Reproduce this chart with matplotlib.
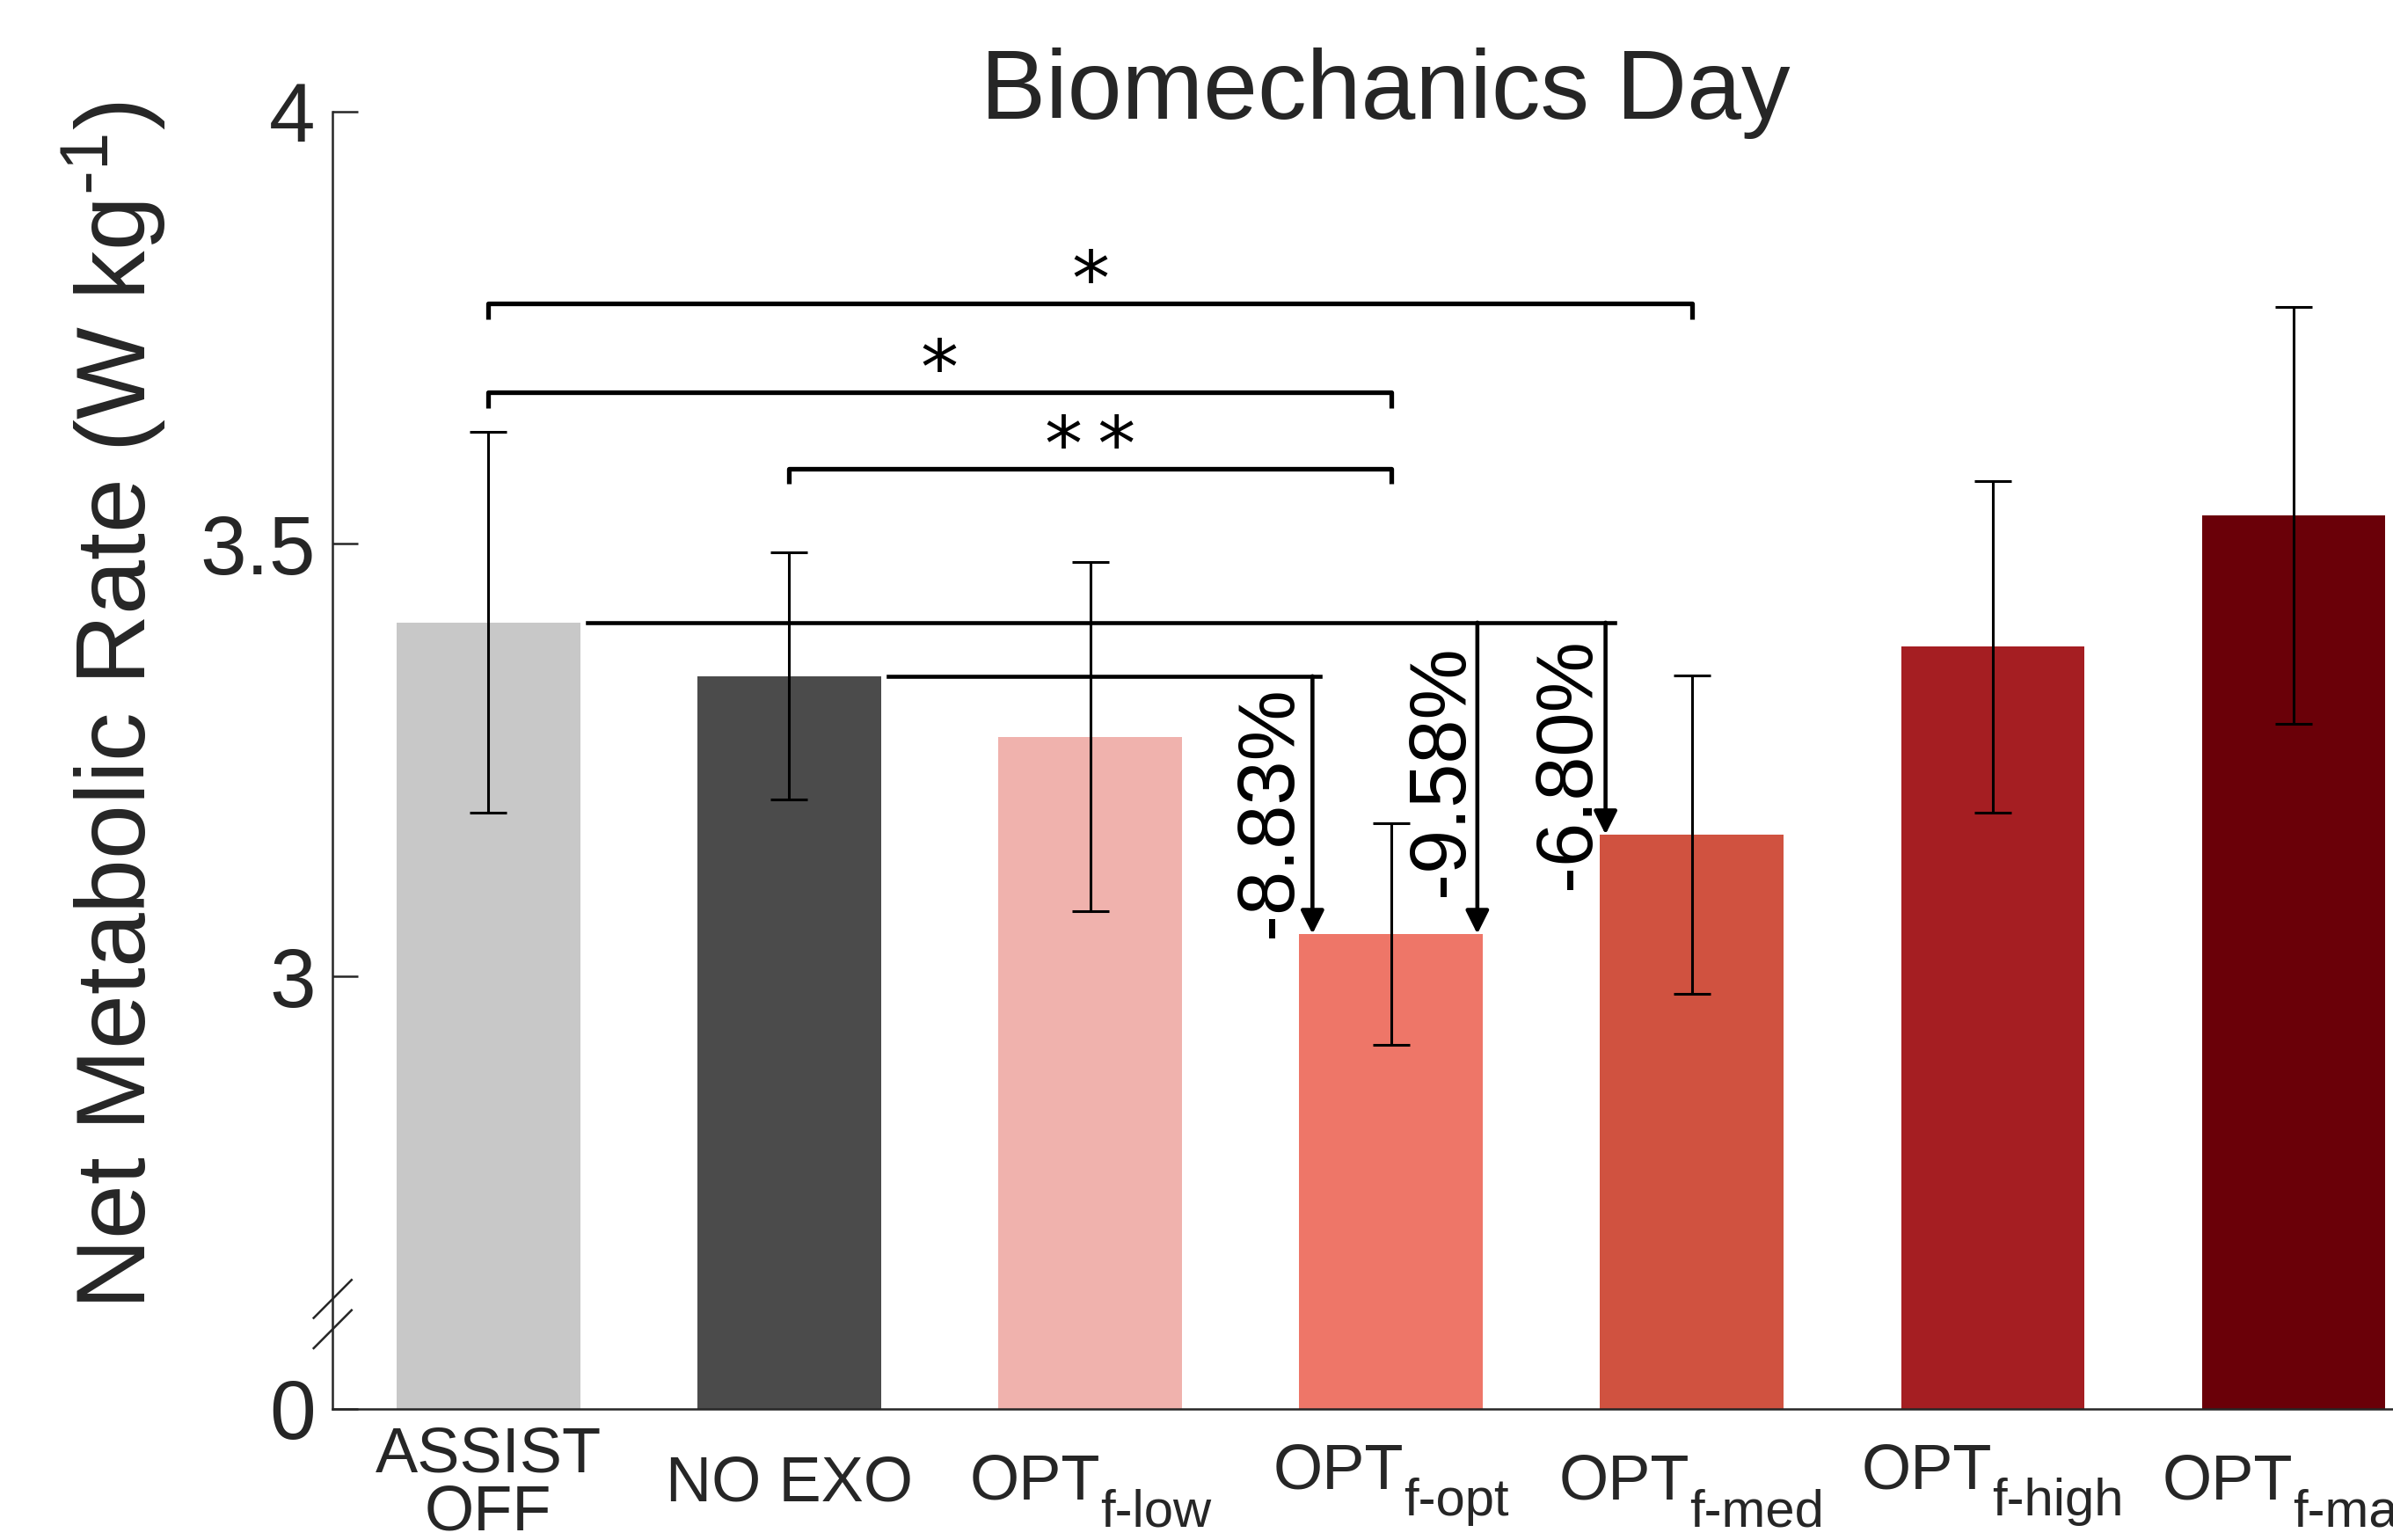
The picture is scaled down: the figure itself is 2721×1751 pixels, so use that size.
import numpy as np
import matplotlib.pyplot as plt

# bar values (W/kg), axis is broken below 2.5
conditions = ["ASSIST\nOFF", "NO EXO", "OPT", "OPT", "OPT", "OPT", "OPT"]
subscripts = ["", "", "f-low", "f-opt", "f-med", "f-high", "f-max"]
means = [3.409, 3.347, 3.277, 3.049, 3.164, 3.381, 3.533]
sds = [0.220, 0.143, 0.202, 0.128, 0.184, 0.192, 0.241]
colors = ["#c8c8c8", "#4b4b4b", "#f0b2ad", "#ee7668", "#d05240", "#a51e22", "#6a0008"]

ytick_vals = [2.5, 3.0, 3.5, 4.0]
ytick_labels = ["0", "3", "3.5", "4"]

# significance brackets: (left bar, right bar, height, label)
brackets = [(1, 5, 3.778, "*"), (1, 4, 3.675, "*"), (2, 4, 3.587, "*\u2009*")]
# percent change arrows: (ref bar, x of arrow, target bar, label, label x, label y)
changes = [(2, 3.739, 4, "-8.83%", 3.60, 3.190),
           (1, 4.287, 4, "-9.58%", 4.17, 3.238),
           (1, 4.713, 5, "-6.80%", 4.59, 3.246)]

plt.rcParams['font.family'] = ['Liberation Sans', 'DejaVu Sans']
txt = "#262626"

fig = plt.figure(figsize=(27.21, 17.51), dpi=100)
ax = fig.add_axes([0.139, 0.0852, 0.861, 0.8425])

x = np.arange(1, len(means) + 1)
ax.bar(x, means, width=0.61, color=colors, zorder=1)
ax.errorbar(x, means, yerr=sds, fmt="none", ecolor="black", elinewidth=2.2,
            capsize=15, capthick=2.2, zorder=3)

ax.set_xlim(0.4827, 7.33)
ax.set_ylim(2.5, 4.0)
ax.set_yticks(ytick_vals)
ax.set_yticklabels(ytick_labels)
ax.set_xticks(x)
ax.set_xticklabels([c if not s else "" for c, s in zip(conditions, subscripts)],
                   fontsize=52, color=txt, linespacing=0.98)
plt.setp(ax.get_xticklabels(), va="center")
ax.tick_params(axis="x", length=0, pad=62)
ax.tick_params(axis="y", direction="in", length=21, width=1.8, labelsize=68,
               colors=txt, pad=14)
for s in ["top", "right"]:
    ax.spines[s].set_visible(False)
for s in ["left", "bottom"]:
    ax.spines[s].set_linewidth(1.8)
    ax.spines[s].set_color(txt)

# OPT labels with larger subscripts, drawn by hand and centred under the bars
xtr = ax.get_xaxis_transform()
renderer = fig.canvas.get_renderer()
for xi, c, s in zip(x, conditions, subscripts):
    if not s:
        continue
    base = 65 if any(ch in s for ch in "gp") else 74
    t1 = ax.annotate(c, xy=(xi, 0), xycoords=xtr, xytext=(0, -base),
                     textcoords="offset points", ha="left", va="baseline",
                     fontsize=52, color=txt, annotation_clip=False)
    t2 = ax.annotate(s, xy=(xi, 0), xycoords=xtr, xytext=(0, -base - 22),
                     textcoords="offset points", ha="left", va="baseline",
                     fontsize=43, color=txt, annotation_clip=False)
    w1 = t1.get_window_extent(renderer).width * 72 / fig.dpi
    w2 = t2.get_window_extent(renderer).width * 72 / fig.dpi
    t1.set_position((-(w1 + w2) / 2, -base))
    t2.set_position((-(w1 + w2) / 2 + w1, -base - 22))

# axis break marks
ytr = ax.get_yaxis_transform()
for yb in [2.627, 2.592]:
    ax.plot([-0.0092, 0.0092], [yb - 0.022, yb + 0.022], color=txt, lw=1.8,
            transform=ytr, clip_on=False)

# significance brackets
d = 0.018
for a, b, h, lab in brackets:
    ax.plot([a, a, b, b], [h - d, h, h, h - d], color="black", lw=3.8,
            solid_capstyle="butt", zorder=4)
    ax.text((a + b) / 2, h - 0.002, lab, fontsize=62, ha="center",
            va="baseline", family="DejaVu Sans", color="black")

# reference lines with arrows to the lower bars
for ref, xa, tgt, lab, lx, ly in changes:
    ax.annotate("", xy=(xa, means[tgt - 1]), xytext=(xa, means[ref - 1]),
                arrowprops=dict(arrowstyle="-|>,head_length=0.4,head_width=0.2",
                                mutation_scale=40, lw=3.3, color="black",
                                shrinkA=0, shrinkB=0), zorder=4)
    ax.text(lx, ly, lab, rotation=90, fontsize=65, ha="center", va="center",
            color="black")
ax.plot([1 + 0.33, 4.743], [means[0]] * 2, color="black", lw=3.3, zorder=4)
ax.plot([2 + 0.33, 3.764], [means[1]] * 2, color="black", lw=3.3, zorder=4)

fig.text(0.579, 0.9227, "Biomechanics Day", fontsize=80, ha="center",
         va="baseline", color=txt)
fig.text(0.0478, 0.542, r"Net Metabolic Rate (W kg$\mathregular{^{\text{-}1}}$)",
         rotation=90, fontsize=80, ha="center", va="center", color=txt)

fig.savefig("out.png", dpi=100)
